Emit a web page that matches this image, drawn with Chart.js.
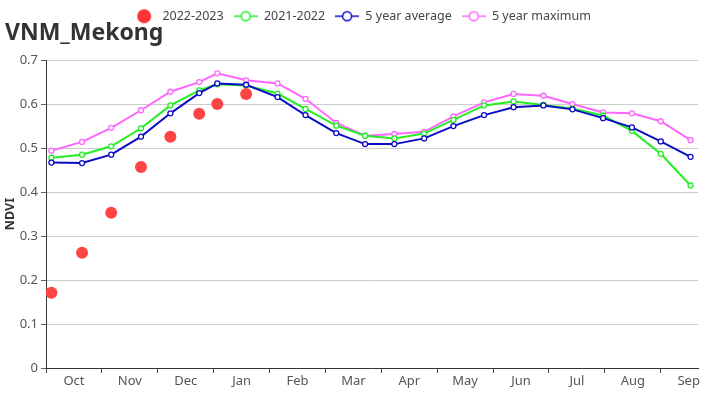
<!DOCTYPE html>
<html>
<head>
<meta charset="utf-8">
<script src="https://cdn.jsdelivr.net/npm/chart.js@4.4.0/dist/chart.umd.min.js"></script>
<style>
  html, body { margin: 0; padding: 0; background: #fff; }
</style>
</head>
<body>
<canvas id="ndviChart" width="726" height="400"></canvas>
<script>
// season runs Oct -> Sep
const months = ['Oct', 'Nov', 'Dec', 'Jan', 'Feb', 'Mar', 'Apr', 'May', 'Jun', 'Jul', 'Aug', 'Sep'];
const dates = ['10-04', '10-21', '11-06', '11-22', '12-08', '12-24', '01-03', '01-19',
               '02-05', '02-19', '03-07', '03-23', '04-08', '04-24', '05-10', '05-27',
               '06-12', '06-28', '07-14', '07-31', '08-16', '09-01', '09-17'];
const axisEnd = '09-21';

const ndvi2223 = [0.171, 0.262, 0.353, 0.457, 0.526, 0.578, 0.600, 0.623];
const ndvi2122 = [0.478, 0.485, 0.504, 0.545, 0.597, 0.631, 0.645, 0.642, 0.624, 0.589, 0.551, 0.528,
                  0.522, 0.533, 0.564, 0.597, 0.606, 0.598, 0.590, 0.574, 0.539, 0.487, 0.415];
const avg5yr   = [0.467, 0.466, 0.485, 0.526, 0.579, 0.625, 0.647, 0.644, 0.616, 0.575, 0.534, 0.509,
                  0.509, 0.522, 0.550, 0.575, 0.593, 0.597, 0.588, 0.568, 0.547, 0.515, 0.480];
const max5yr   = [0.494, 0.514, 0.546, 0.586, 0.628, 0.650, 0.670, 0.654, 0.647, 0.612, 0.557, 0.528,
                  0.532, 0.537, 0.572, 0.604, 0.623, 0.619, 0.600, 0.581, 0.579, 0.561, 0.518];

const FONT = "'Noto Sans', sans-serif";
const daysIn = {1: 31, 2: 28, 3: 31, 4: 30, 5: 31, 6: 30, 7: 31, 8: 31, 9: 30, 10: 31, 11: 30, 12: 31};

// "MM-DD" -> months since 1 Oct
function monthPos(md) {
    const [m, d] = md.split('-').map(Number);
    return (m + 2) % 12 + (d - 1) / daysIn[m];
}

function toPoints(values) {
    return values.map((v, i) => ({x: monthPos(dates[i]), y: v}));
}

// little "-o-" / dot symbols for the legend
function legendIcon(color, filled) {
    const c = document.createElement('canvas');
    c.width = 24; c.height = 16;
    const g = c.getContext('2d');
    if (filled) {
        g.fillStyle = color;
        g.beginPath(); g.arc(12, 8, 7, 0, Math.PI * 2); g.fill();
        return c;
    }
    g.strokeStyle = color;
    g.lineWidth = 1.5;
    g.beginPath(); g.moveTo(0, 8); g.lineTo(24, 8); g.stroke();
    g.fillStyle = '#fff';
    g.beginPath(); g.arc(12, 8, 4.5, 0, Math.PI * 2); g.fill(); g.stroke();
    return c;
}

function lineSet(label, values, color, order) {
    return {
        label: label,
        data: toPoints(values),
        borderColor: color,
        borderWidth: 2,
        pointRadius: 2.5,
        pointBackgroundColor: '#fff',
        pointBorderColor: color,
        pointBorderWidth: 1.3,
        tension: 0,
        order: order,
        icon: legendIcon(color, false)
    };
}

// the legend sits a bit right of the canvas centre in the original
const legendShift = {
    id: 'legendShift',
    afterLayout(chart) {
        chart.legend.left += 10;
        chart.legend.right += 10;
    }
};

const ctx = document.getElementById('ndviChart').getContext('2d');
new Chart(ctx, {
    type: 'line',
    data: {
        datasets: [
            {
                label: '2022-2023',
                data: toPoints(ndvi2223),
                showLine: false,
                pointRadius: 6,
                pointBackgroundColor: '#ff4444',
                pointBorderWidth: 0,
                order: 0,
                icon: legendIcon('#ff3333', true)
            },
            lineSet('2021-2022', ndvi2122, '#22ee22', 2),
            lineSet('5 year average', avg5yr, '#0c0cc4', 1),
            lineSet('5 year maximum', max5yr, '#ff66ff', 3)
        ]
    },
    plugins: [legendShift],
    options: {
        responsive: false,
        animation: false,
        layout: { padding: { left: 5, right: 28, top: 0, bottom: 0 } },
        plugins: {
            tooltip: { enabled: false },
            legend: {
                position: 'top',
                weight: 1000,
                labels: {
                    usePointStyle: true,
                    pointStyleWidth: 24,
                    padding: 10,
                    color: '#444',
                    font: { family: FONT, size: 12.5 },
                    generateLabels: chart => chart.data.datasets.map((ds, i) => ({
                        text: ds.label,
                        pointStyle: ds.icon,
                        fillStyle: 'rgba(0,0,0,0)',
                        strokeStyle: 'rgba(0,0,0,0)',
                        lineWidth: 0,
                        fontColor: '#444',
                        hidden: false,
                        datasetIndex: i
                    }))
                }
            },
            title: {
                display: true,
                text: 'VNM_Mekong',
                align: 'start',
                weight: 500,
                color: '#333',
                font: { family: FONT, size: 23, weight: 'bold' },
                padding: { top: -13, bottom: 13 }
            }
        },
        scales: {
            x: {
                type: 'linear',
                min: 0,
                max: monthPos(axisEnd),
                afterBuildTicks: scale => {
                    const t = [];
                    for (let i = 0; i < months.length; i++) {
                        t.push({ value: i });
                        t.push({ value: i + 0.5 });
                    }
                    scale.ticks = t;
                },
                afterFit: scale => { scale.height = 32; },
                ticks: {
                    autoSkip: false,
                    maxRotation: 0,
                    padding: 0,
                    color: '#555',
                    font: { family: FONT, size: 13 },
                    callback: v => Number.isInteger(v) ? '' : months[Math.floor(v)]
                },
                grid: {
                    drawOnChartArea: false,
                    tickLength: 5,
                    tickColor: c => Number.isInteger(c.tick.value) ? '#444' : 'rgba(0,0,0,0)'
                },
                border: { color: '#333', width: 1 }
            },
            y: {
                min: 0,
                max: 0.7,
                afterFit: scale => { scale.width = 41; },
                ticks: {
                    stepSize: 0.1,
                    padding: 3,
                    color: '#555',
                    font: { family: FONT, size: 13 }
                },
                grid: { color: '#cccccc', tickLength: 5, tickColor: '#666' },
                border: { color: '#333', width: 1 },
                title: {
                    display: true,
                    text: 'NDVI',
                    color: '#333',
                    font: { family: FONT, size: 12.5, weight: 'bold', lineHeight: 1 },
                    padding: { top: -1, bottom: 0 }
                }
            }
        }
    }
});
</script>
</body>
</html>
